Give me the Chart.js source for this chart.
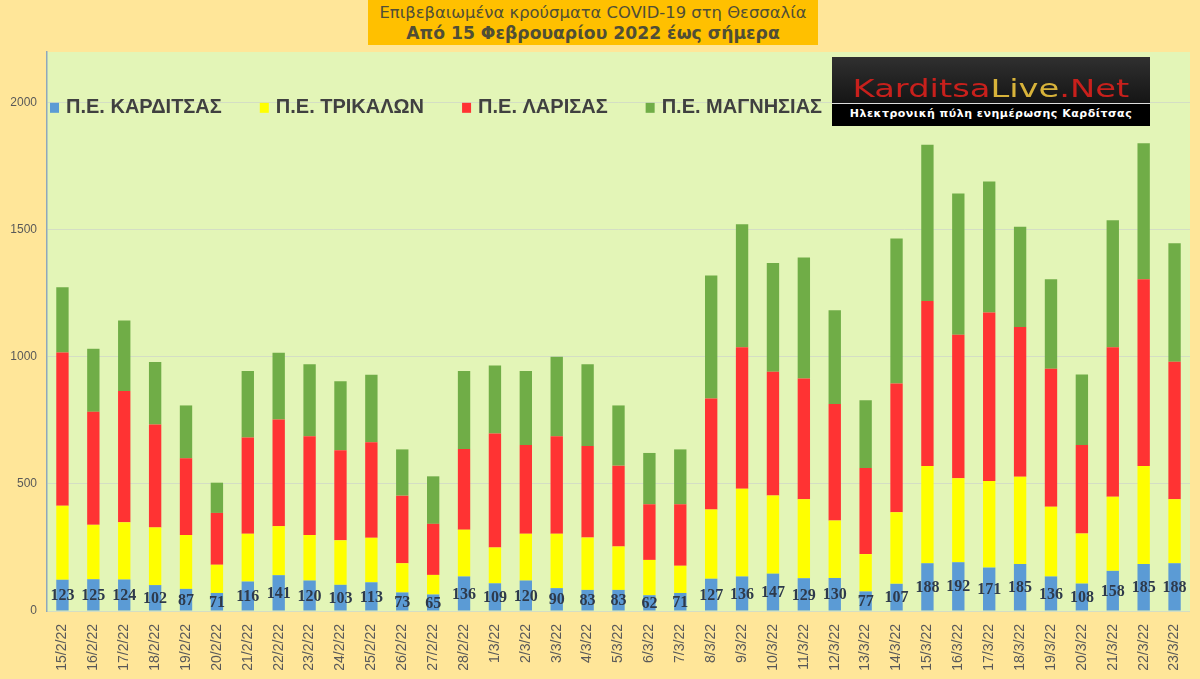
<!DOCTYPE html>
<html>
<head>
<meta charset="utf-8">
<script src="https://cdn.jsdelivr.net/npm/chart.js@4.4.1/dist/chart.umd.min.js"></script>
<style>
  body { margin: 0; background: #FFE699; }
  #wrap { position: relative; width: 1200px; height: 679px; overflow: hidden; }
  #title {
    position: absolute; left: 368px; top: 0; width: 450px; height: 45px;
    background: #FFC000; color: #504E36; text-align: center;
    font-family: "DejaVu Sans", sans-serif; font-size: 16.4px; line-height: 20px;
    padding-top: 3px; box-sizing: border-box; white-space: nowrap;
  }
  #title b { font-size: 17.2px; }
  #logo {
    position: absolute; left: 832px; top: 57px; width: 318px; height: 68px;
    background: linear-gradient(#303030, #161616 65%, #000);
    font-family: "DejaVu Sans", sans-serif;
  }
  #logo .big {
    position: absolute; left: 0; top: 18px; width: 318px; text-align: center;
    font-size: 25px; line-height: 28px; transform: scaleX(1.35); transform-origin: 50% 50%;
  }
  #logo .sub {
    position: absolute; left: 0; top: 46px; width: 318px; height: 22px;
    border-top: 1.5px solid #ddd; background: #000; color: #fff;
    font-size: 11px; font-weight: bold; line-height: 20px; text-align: center; letter-spacing: 0.5px;
  }
</style>
</head>
<body>
<div id="wrap">
  <canvas id="chart" width="1200" height="679"></canvas>
  <div id="title">Επιβεβαιωμένα κρούσματα COVID-19 στη Θεσσαλία<br><b>Από 15 Φεβρουαρίου 2022 έως σήμερα</b></div>
  <div id="logo">
    <div class="big"><span style="color:#C8201C">Karditsa</span><span style="color:#D8B33A">Live</span><span style="color:#C8201C">.Net</span></div>
    <div class="sub">Ηλεκτρονική πύλη ενημέρωσης Καρδίτσας</div>
  </div>
</div>
<script>
const dates = ['15/2/22','16/2/22','17/2/22','18/2/22','19/2/22','20/2/22','21/2/22','22/2/22','23/2/22','24/2/22','25/2/22','26/2/22','27/2/22','28/2/22',
  '1/3/22','2/3/22','3/3/22','4/3/22','5/3/22','6/3/22','7/3/22','8/3/22','9/3/22','10/3/22','11/3/22','12/3/22','13/3/22','14/3/22','15/3/22','16/3/22','17/3/22','18/3/22','19/3/22','20/3/22','21/3/22','22/3/22','23/3/22'];

const karditsa = [123,125,124,102,87,71,116,141,120,103,113,73,65,136,
  109,120,90,83,83,62,71,127,136,147,129,130,77,107,188,192,171,185,136,108,158,185,188];
const trikala = [291,214,225,227,212,111,188,193,179,175,175,115,77,184,
  141,184,214,206,171,139,107,272,345,308,311,226,147,282,383,330,341,343,274,197,292,386,252];
const larisa = [603,445,517,405,302,204,379,420,389,355,376,266,201,318,
  449,349,384,360,318,219,242,437,557,487,475,459,339,506,649,565,663,590,543,348,588,735,541];
const magnisia = [257,248,277,246,208,119,262,262,283,271,266,182,187,307,
  267,292,313,322,237,202,216,484,484,428,476,369,266,571,615,556,515,394,353,278,500,535,466];

const yTicks = [0, 500, 1000, 1500, 2000];

// plot background
const plotBg = {
  id: 'plotBg',
  beforeDraw(chart) {
    const {ctx, chartArea: a} = chart;
    ctx.save();
    ctx.fillStyle = '#E3F5B7';
    ctx.fillRect(a.left, a.top, a.right - a.left, a.bottom - a.top);
    ctx.restore();
  }
};

// values of the first series, centred in the blue segment
const valueLabels = {
  id: 'valueLabels',
  afterDatasetsDraw(chart) {
    const ctx = chart.ctx;
    const meta = chart.getDatasetMeta(0);
    ctx.save();
    ctx.font = 'bold 16px "Liberation Serif", serif';
    ctx.fillStyle = '#2E3A4B';
    ctx.textAlign = 'center';
    ctx.textBaseline = 'middle';
    meta.data.forEach((bar, i) => {
      ctx.fillText(karditsa[i], bar.x, (bar.y + bar.base) / 2 + 1);
    });
    ctx.restore();
  }
};

// legend drawn inside the plot, just under the 2000 line
const insideLegend = {
  id: 'insideLegend',
  afterDraw(chart) {
    const ctx = chart.ctx;
    const y = chart.scales.y.getPixelForValue(2000) + 4;
    let x = 50;
    ctx.save();
    ctx.font = 'bold 20px "Liberation Sans", sans-serif';
    ctx.textBaseline = 'middle';
    chart.data.datasets.forEach(ds => {
      const w = ctx.measureText(ds.label).width;
      ctx.fillStyle = ds.backgroundColor;
      ctx.fillRect(x, y - 4, 9, 10);
      ctx.fillStyle = '#404040';
      ctx.fillText(ds.label, x + 16, y + 1);
      x += 16 + w + 38;
    });
    ctx.restore();
  }
};

new Chart(document.getElementById('chart'), {
  type: 'bar',
  data: {
    labels: dates,
    datasets: [
      {label: 'Π.Ε. ΚΑΡΔΙΤΣΑΣ', data: karditsa, backgroundColor: '#5B9BD5'},
      {label: 'Π.Ε. ΤΡΙΚΑΛΩΝ', data: trikala, backgroundColor: '#FFFF00'},
      {label: 'Π.Ε. ΛΑΡΙΣΑΣ', data: larisa, backgroundColor: '#FF3333'},
      {label: 'Π.Ε. ΜΑΓΝΗΣΙΑΣ', data: magnisia, backgroundColor: '#70AD47'}
    ]
  },
  options: {
    responsive: false,
    animation: false,
    layout: { padding: { top: 52, right: 10, left: 0, bottom: 0 } },
    datasets: {
      bar: { barPercentage: 0.4, categoryPercentage: 1.0 }
    },
    scales: {
      x: {
        stacked: true,
        grid: { display: false },
        border: { display: false },
        ticks: {
          autoSkip: false, maxRotation: 90, minRotation: 90, padding: 5,
          color: '#595959', font: { family: '"Liberation Sans", sans-serif', size: 14 }
        },
        afterFit: scale => { scale.height = 68; }
      },
      y: {
        stacked: true,
        min: 0, max: 2200,
        afterBuildTicks: scale => { scale.ticks = yTicks.map(v => ({value: v})); },
        grid: { color: '#D4DEC4', drawTicks: false },
        border: { color: '#8FA8BC', width: 1.5 },
        ticks: {
          padding: 10, color: '#595959',
          font: { family: '"Liberation Sans", sans-serif', size: 12 },
          callback: v => String(v)
        },
        afterFit: scale => { scale.width = 47; }
      }
    },
    plugins: {
      legend: { display: false },
      tooltip: { enabled: false }
    }
  },
  plugins: [plotBg, valueLabels, insideLegend]
});
</script>
</body>
</html>
